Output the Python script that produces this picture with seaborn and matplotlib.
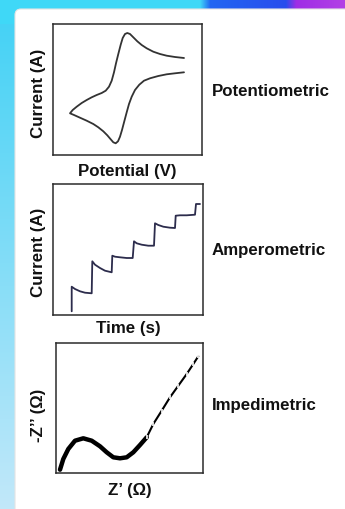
import numpy as np
import pandas as pd
import matplotlib
matplotlib.use("Agg")
import matplotlib.pyplot as plt
import seaborn as sns
from matplotlib.patches import FancyBboxPatch

# cyclic voltammogram (arbitrary units); reverse scan then forward scan
potential = [131.0, 122.0, 113.7, 107.0, 100.3, 93.7, 88.7, 84.3, 80.3, 77.0, 74.3, 72.0, 69.7, 67.7,
             65.3, 63.0, 61.0, 58.7, 56.0, 52.7, 48.7, 43.7, 38.7, 33.7, 28.7, 23.7, 19.7, 17.0,
             21.0, 27.0, 33.7, 40.3, 45.3, 50.3, 54.3, 57.7, 60.3, 62.7, 65.0, 67.0, 69.0, 71.3,
             73.7, 76.0, 78.7, 82.0, 86.3, 91.0, 97.0, 105.3, 113.7, 122.0, 131.0]
current_cv = [97.0, 98.0, 99.3, 101.0, 103.3, 106.7, 110.0, 113.7, 117.7, 121.0, 122.0, 121.0, 117.0, 110.3,
              101.0, 91.7, 82.7, 74.3, 68.3, 64.3, 62.0, 60.0, 57.7, 55.0, 52.0, 48.3, 45.0, 41.7,
              40.0, 37.3, 34.3, 31.0, 27.7, 23.7, 19.7, 15.7, 12.7, 11.7, 13.7, 18.3, 25.0, 33.7,
              42.7, 51.0, 58.3, 65.0, 70.3, 74.3, 76.7, 79.0, 80.7, 81.7, 82.7]

# amperometric staircase
time_s = [18.7, 18.7, 22, 27, 32, 38.7, 39.3, 42, 47, 52, 58.7, 59.3, 62, 67, 73.7, 79.7,
          81, 83.7, 88.7, 95.3, 101, 102, 105.3, 110.3, 117, 122, 122.7, 127, 133.7, 142, 143, 147]
current_amp = [3.7, 28.3, 26, 23.7, 22.3, 21.7, 53.7, 50.3, 47, 44.3, 42.7, 59.3, 58.3, 57.7, 57, 57,
               73.7, 71.7, 70.3, 69.3, 69.3, 91.7, 90, 88.3, 87.3, 87, 99.3, 99.7, 99.7, 100.3, 111, 111]

# Nyquist plot
z_real = [4, 7.3, 12.3, 19, 27.3, 35.7, 44, 50.7, 57.3, 64, 70.7, 77.3, 84, 90.7, 97.3, 105.7, 114, 122.3, 130.7, 137.3, 142.3]
z_imag = [3.3, 14, 24, 32.3, 34.7, 32.3, 26.7, 20.7, 15.7, 14.7, 15.7, 20.7, 28, 35.7, 49, 62.3, 75.7, 87.3, 99, 109, 116.7]
thick_end = 14

cv = pd.DataFrame({"E": potential, "I": current_cv})
amp = pd.DataFrame({"t": time_s, "I": current_amp})
eis = pd.DataFrame({"Zr": z_real, "Zi": z_imag})

sns.set_theme(style="white")
plt.rcParams["font.family"] = ["Liberation Sans", "DejaVu Sans"]

W, H = 345, 510
fig = plt.figure(figsize=(W / 100, H / 100), dpi=100)

# background: gradient frame (figure image) + white card (figure patch)
xx = np.linspace(0, 1, W)
yy = np.linspace(0, 1, H)
img = np.ones((H, W, 3))
left_top = np.array([0.25, 0.82, 0.96])
left_bot = np.array([0.76, 0.91, 0.98])
for c in range(3):
    img[:, :, c] = left_top[c] + (left_bot[c] - left_top[c]) * yy[:, None]
stops_x = [0, 0.58, 0.61, 0.83, 0.86, 1]
stops = np.array([[0.25, 0.85, 0.97], [0.25, 0.85, 0.97], [0.13, 0.40, 0.95],
                  [0.16, 0.30, 0.93], [0.62, 0.18, 0.90], [0.70, 0.25, 0.90]])
for c in range(3):
    img[:25, :, c] = np.interp(xx, stops_x, stops[:, c])[None, :]
fig.figimage(img, xo=0, yo=0, origin="upper", zorder=-10)
card = FancyBboxPatch((15, -20), W + 20, H - 10 + 20, boxstyle="round,pad=0,rounding_size=6",
                      fc="white", ec="#e4e4e4", lw=0.8, transform=None, zorder=-5)
fig.add_artist(card)

fs = 12.2


def style(ax, xlim, ylim, xlabel, ylabel, xlab_y, ylab_x, ylab_y):
    ax.set_xlim(*xlim)
    ax.set_ylim(*ylim)
    ax.set_xticks([])
    ax.set_yticks([])
    ax.set_facecolor("none")
    for s in ax.spines.values():
        s.set_color("#2b2b2b")
        s.set_linewidth(1.1)
    # seaborn hides the labels when there are no tick labels, so force them on
    ax.set_xlabel(xlabel, fontsize=fs, fontweight="bold", color="#111111", visible=True)
    ax.set_ylabel(ylabel, fontsize=fs, fontweight="bold", color="#111111", visible=True)
    ax.xaxis.set_label_coords(0.5, xlab_y)
    ax.yaxis.set_label_coords(ylab_x, ylab_y)


ax1 = fig.add_axes([53 / W, 1 - 156 / H, 149 / W, 131 / H])
sns.lineplot(data=cv, x="E", y="I", sort=False, estimator=None, color="#333333", lw=1.3, ax=ax1)
style(ax1, (0, 149), (0, 131), "Potential (V)", "Current (A)", -0.058, -0.045, 0.477)

ax2 = fig.add_axes([53 / W, 1 - 316 / H, 150 / W, 131 / H])
sns.lineplot(data=amp, x="t", y="I", sort=False, estimator=None, color="#2c2c4c", lw=1.3, ax=ax2)
style(ax2, (0, 150), (0, 131), "Time (s)", "Current (A)", -0.035, -0.045, 0.485)

ax3 = fig.add_axes([56 / W, 1 - 474 / H, 147 / W, 130 / H])
sns.lineplot(data=eis.iloc[:thick_end], x="Zr", y="Zi", sort=False, estimator=None,
             color="black", lw=3.2, ax=ax3)
sns.lineplot(data=eis.iloc[thick_end - 1:], x="Zr", y="Zi", sort=False, estimator=None,
             color="black", lw=1.5, marker="|", markersize=3.5, markeredgewidth=1.2, ax=ax3)
style(ax3, (0, 147), (0, 130), "Z\u2019 (\u03a9)", "-Z\u2019\u2019 (\u03a9)", -0.073, -0.065, 0.454)

for label, yc in [("Potentiometric", 91), ("Amperometric", 250), ("Impedimetric", 406)]:
    fig.text(212 / W, 1 - yc / H, label, ha="left", va="center", fontsize=fs, fontweight="bold", color="#111111")

fig.savefig("out.png", dpi=100)
